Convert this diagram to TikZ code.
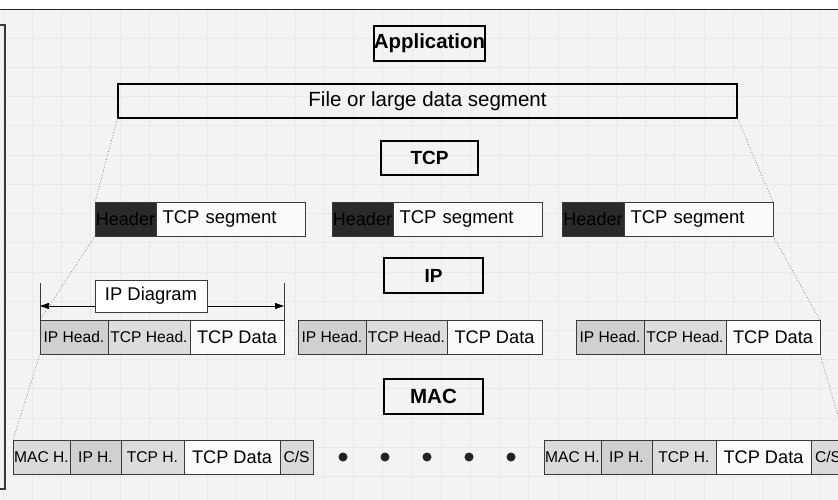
\documentclass[tikz,border=0pt]{standalone}
\usepackage{fontspec}
\setmainfont{Liberation Sans}
\usepackage{tikz}
\usetikzlibrary{arrows.meta,positioning}
\definecolor{pkbg}{RGB}{243,243,243}
\definecolor{pkgrid}{RGB}{234,234,234}
\definecolor{pkdark}{RGB}{34,34,34}
\definecolor{pkedge}{RGB}{58,58,58}
\definecolor{pkhdr}{RGB}{42,42,42}
\definecolor{pkip}{RGB}{208,208,208}
\definecolor{pktcp}{RGB}{220,220,220}
\definecolor{pkmac}{RGB}{218,218,218}
\definecolor{pkdata}{RGB}{250,250,250}
\definecolor{pklink}{RGB}{130,130,130}
\tikzset{
  layer/.style={
    draw=black, line width=2.4pt, inner sep=0pt,
    minimum width=97pt, minimum height=34pt,
    font=\fontsize{19}{19}\selectfont\bfseries
  },
  cell/.style={
    draw=pkedge, line width=0.9pt, inner sep=0pt, outer sep=0pt,
    minimum height=34pt, anchor=west, font=\fontsize{15.6}{15.6}\selectfont
  },
  hdr/.style={cell, fill=pkhdr, minimum width=61pt, font=\fontsize{18}{18}\selectfont},
  seg/.style={cell, fill=pkdata, text width=136pt, inner xsep=6.5pt, align=left,
    font=\fontsize{18.5}{18.5}\selectfont},
  iph/.style={cell, fill=pkip},
  tcph/.style={cell, fill=pktcp},
  mach/.style={cell, fill=pkmac},
  dat/.style={cell, fill=pkdata, font=\fontsize{18.2}{18.2}\selectfont},
  link/.style={draw=pklink, dotted, line width=0.8pt},
  dimtick/.style={draw=pkedge, line width=0.9pt},
  dimarr/.style={{Triangle[length=9pt,width=6pt]}-{Triangle[length=9pt,width=6pt]},
    draw=black, line width=0.9pt},
  gapdot/.style={circle, fill=pkdark, inner sep=0pt, minimum size=9pt}
}
\begin{document}
\begin{tikzpicture}[x=1pt, y=-1pt]
  \useasboundingbox (0,0) rectangle (838,500);
  % page background
  \fill[white] (0,0) rectangle (838,9);
  \fill[pkbg] (0,9) rectangle (838,500);
  \begin{scope}[shift={(3,9)}]
    \draw[pkgrid, line width=0.6pt, step=29.2pt] (0,491) grid (835,0);
  \end{scope}
  \draw[pkdark, line width=1.5pt] (0,9.5) -- (838,9.5);
  \draw[pkedge, line width=1.3pt] (-3,25) -- (5,25) -- (5,489) -- (-3,489);

  % layers
  \node[layer, minimum width=110pt, minimum height=35pt,
    font=\fontsize{20.4}{20.4}\selectfont\bfseries] (app) at (429.5,43.5) {Application};
  \node[draw=black, line width=1.1pt, minimum width=619pt, minimum height=34pt,
    font=\fontsize{20.5}{20.5}\selectfont] (file) at (427.5,101) {File or large data segment};
  \node[layer] (tcp) at (429.5,158) {TCP};
  \node[layer, minimum width=99pt, minimum height=35pt] (ip) at (433.5,275.5) {IP};
  \node[layer, minimum width=99pt, minimum height=35pt,
    font=\fontsize{20.5}{20.5}\selectfont\bfseries] (mac) at (433.5,396.5) {MAC};

  % tcp segments
  \node[hdr] (h1) at (95,219) {Header};
  \node[seg, right=0pt of h1] (s1) {TCP segment};
  \node[hdr] (h2) at (332,219) {Header};
  \node[seg, right=0pt of h2] (s2) {TCP segment};
  \node[hdr, minimum width=62pt] (h3) at (562,219) {Header};
  \node[seg, right=0pt of h3] (s3) {TCP segment};

  % ip datagrams
  \node[iph, minimum width=68pt] (ih1) at (40,337) {IP Head.};
  \node[tcph, minimum width=82pt, right=0pt of ih1] (th1) {TCP Head.};
  \node[dat, minimum width=94pt, right=0pt of th1] (id1) {TCP Data};
  \node[iph, minimum width=68pt] (ih2) at (298,337) {IP Head.};
  \node[tcph, minimum width=81pt, right=0pt of ih2] (th2) {TCP Head.};
  \node[dat, minimum width=95pt, right=0pt of th2] (id2) {TCP Data};
  \node[iph, minimum width=68pt] (ih3) at (576,337) {IP Head.};
  \node[tcph, minimum width=82pt, right=0pt of ih3] (th3) {TCP Head.};
  \node[dat, minimum width=94pt, right=0pt of th3] (id3) {TCP Data};

  % ip diagram span
  \coordinate (tl) at (40,283);
  \coordinate (tr) at (284,283);
  \coordinate (al) at (40,306);
  \coordinate (ar) at (284,306);
  \draw[dimtick] (ih1.north west) -- (tl);
  \draw[dimtick] (id1.north east) -- (tr);
  \draw[dimarr] (al) -- (ar);
  \node[draw=pkedge, line width=0.9pt, fill=white, inner sep=0pt,
    minimum width=112pt, minimum height=32pt,
    font=\fontsize{18.4}{18.4}\selectfont] (ipd) at (151,296) {IP Diagram};

  % mac frames
  \node[mach, minimum width=57pt] (mh1) at (13,457) {MAC H.};
  \node[iph, minimum width=51pt, right=0pt of mh1] (mi1) {IP H.};
  \node[tcph, minimum width=63pt, right=0pt of mi1] (mt1) {TCP H.};
  \node[dat, minimum width=96pt, right=0pt of mt1] (md1) {TCP Data};
  \node[mach, minimum width=33pt, right=0pt of md1] (cs1) {C/S};
  \node[mach, minimum width=57pt] (mh2) at (544,457) {MAC H.};
  \node[iph, minimum width=51pt, right=0pt of mh2] (mi2) {IP H.};
  \node[tcph, minimum width=64pt, right=0pt of mi2] (mt2) {TCP H.};
  \node[dat, minimum width=95pt, right=0pt of mt2] (md2) {TCP Data};
  \node[mach, minimum width=34pt, right=0pt of md2] (cs2) {C/S};

  \node[gapdot] (g1) at (343,457) {};
  \node[gapdot] (g2) at (385,457) {};
  \node[gapdot] (g3) at (427,457) {};
  \node[gapdot] (g4) at (469,457) {};
  \node[gapdot] (g5) at (511,457) {};

  % fan-out guides
  \draw[link] (file.south west) -- (h1.north west);
  \draw[link] (h1.south west) -- (ih1.north west);
  \draw[link] (ih1.south west) -- (mh1.north west);
  \draw[link] (file.south east) -- (s3.north east);
  \draw[link] (s3.south east) -- (id3.north east);
  \draw[link] (id3.south east) -- (cs2.north east);
\end{tikzpicture}
\end{document}
